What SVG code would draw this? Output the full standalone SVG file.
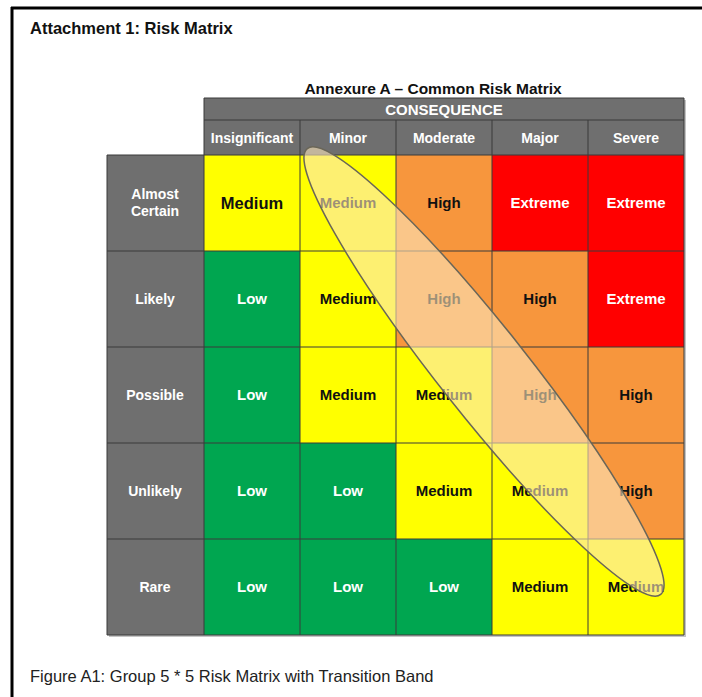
<svg xmlns="http://www.w3.org/2000/svg" width="702" height="697" viewBox="0 0 702 697">
<style>
.t{font-family:"Liberation Sans",Arial,sans-serif;font-weight:bold;text-anchor:middle}
.hd{fill:#ffffff;font-size:14px}
.rh{fill:#ffffff;font-size:14px}
.c{font-size:15px}
.dk{fill:#111111}
.wt{fill:#ffffff}
.Y{fill:#ffff00}
.G{fill:#00a650}
.O{fill:#f7963d}
.R{fill:#ff0000}
.gr{fill:#6f6f6f}
.ln{stroke:#3a3a3a;stroke-width:1;fill:none}
</style>
<rect x="0" y="0" width="702" height="697" fill="#ffffff"/>
<g id="frame">
<line x1="11" y1="8" x2="702" y2="8" stroke="#000" stroke-width="3"/>
<line x1="12" y1="7" x2="12" y2="697" stroke="#000" stroke-width="3"/>
</g>
<text id="title" x="30" y="34" style="font-family:'Liberation Sans',Arial,sans-serif;font-weight:bold;font-size:16.5px;fill:#111">Attachment 1: Risk Matrix</text>
<text id="annex" class="t" x="433" y="94" style="font-size:15.5px;fill:#111">Annexure A – Common Risk Matrix</text>
<!-- shadow -->
<path d="M686 100V637H109V635H684V100Z" fill="#c4c4c4"/>
<g id="header">
<rect x="204" y="98" width="480" height="22" class="gr"/>
<text class="t hd" x="444" y="115" style="font-size:15px">CONSEQUENCE</text>
<rect x="204" y="120" width="480" height="35" class="gr"/>
<text class="t hd" x="252" y="143">Insignificant</text>
<text class="t hd" x="348" y="143">Minor</text>
<text class="t hd" x="444" y="143">Moderate</text>
<text class="t hd" x="540" y="143">Major</text>
<text class="t hd" x="636" y="143">Severe</text>
<path class="ln" d="M204 98H684V155M204 120H684M204 98V155M300 120V155M396 120V155M492 120V155M588 120V155"/>
</g>
<g id="rowheaders">
<rect x="107" y="155" width="97" height="480" class="gr"/>
<text class="t rh" x="155" y="199">Almost</text>
<text class="t rh" x="155" y="216">Certain</text>
<text class="t rh" x="155" y="304">Likely</text>
<text class="t rh" x="155" y="400">Possible</text>
<text class="t rh" x="155" y="496">Unlikely</text>
<text class="t rh" x="155" y="592">Rare</text>
<path class="ln" d="M107 155H204M107 251H204M107 347H204M107 443H204M107 539H204M107 155V635H204"/>
</g>
<g id="cells">
<rect x="204" y="155" width="96" height="96" class="Y"/>
<rect x="300" y="155" width="96" height="96" class="Y"/>
<rect x="396" y="155" width="96" height="96" class="O"/>
<rect x="492" y="155" width="96" height="96" class="R"/>
<rect x="588" y="155" width="96" height="96" class="R"/>
<rect x="204" y="251" width="96" height="96" class="G"/>
<rect x="300" y="251" width="96" height="96" class="Y"/>
<rect x="396" y="251" width="96" height="96" class="O"/>
<rect x="492" y="251" width="96" height="96" class="O"/>
<rect x="588" y="251" width="96" height="96" class="R"/>
<rect x="204" y="347" width="96" height="96" class="G"/>
<rect x="300" y="347" width="96" height="96" class="Y"/>
<rect x="396" y="347" width="96" height="96" class="Y"/>
<rect x="492" y="347" width="96" height="96" class="O"/>
<rect x="588" y="347" width="96" height="96" class="O"/>
<rect x="204" y="443" width="96" height="96" class="G"/>
<rect x="300" y="443" width="96" height="96" class="G"/>
<rect x="396" y="443" width="96" height="96" class="Y"/>
<rect x="492" y="443" width="96" height="96" class="Y"/>
<rect x="588" y="443" width="96" height="96" class="O"/>
<rect x="204" y="539" width="96" height="96" class="G"/>
<rect x="300" y="539" width="96" height="96" class="G"/>
<rect x="396" y="539" width="96" height="96" class="G"/>
<rect x="492" y="539" width="96" height="96" class="Y"/>
<rect x="588" y="539" width="96" height="96" class="Y"/>
<path class="ln" d="M204 155H684V635H204ZM204 251H684M204 347H684M204 443H684M204 539H684M300 155V635M396 155V635M492 155V635M588 155V635"/>
<text class="t dk" x="252" y="209" style="font-size:16.5px">Medium</text>
<text class="t c dk" x="348" y="208">Medium</text>
<text class="t c dk" x="444" y="208">High</text>
<text class="t c wt" x="540" y="208">Extreme</text>
<text class="t c wt" x="636" y="208">Extreme</text>
<text class="t c wt" x="252" y="304">Low</text>
<text class="t c dk" x="348" y="304">Medium</text>
<text class="t c dk" x="444" y="304">High</text>
<text class="t c dk" x="540" y="304">High</text>
<text class="t c wt" x="636" y="304">Extreme</text>
<text class="t c wt" x="252" y="400">Low</text>
<text class="t c dk" x="348" y="400">Medium</text>
<text class="t c dk" x="444" y="400">Medium</text>
<text class="t c dk" x="540" y="400">High</text>
<text class="t c dk" x="636" y="400">High</text>
<text class="t c wt" x="252" y="496">Low</text>
<text class="t c wt" x="348" y="496">Low</text>
<text class="t c dk" x="444" y="496">Medium</text>
<text class="t c dk" x="540" y="496">Medium</text>
<text class="t c dk" x="636" y="496">High</text>
<text class="t c wt" x="252" y="592">Low</text>
<text class="t c wt" x="348" y="592">Low</text>
<text class="t c wt" x="444" y="592">Low</text>
<text class="t c dk" x="540" y="592">Medium</text>
<text class="t c dk" x="636" y="592">Medium</text>
</g>
<g id="band">
<ellipse cx="484" cy="371.5" rx="284.5" ry="44" transform="rotate(51.6 484 371.5)" fill="#fbe6bd" fill-opacity="0.6" stroke="#6a6658" stroke-width="1.5"/>
</g>
<text id="caption" x="30" y="682" style="font-family:'Liberation Sans',Arial,sans-serif;font-size:16.5px;fill:#222">Figure A1: Group 5 * 5 Risk Matrix with Transition Band</text>
</svg>
